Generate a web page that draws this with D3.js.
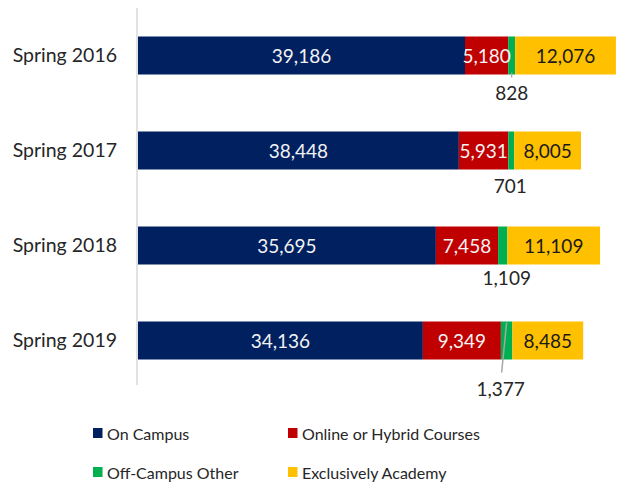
<!DOCTYPE html>
<html>
<head>
<meta charset="utf-8">
<script src="https://cdn.jsdelivr.net/npm/d3@7"></script>
<style>
  html, body { margin: 0; padding: 0; background: #fff; }
  svg { display: block; font-family: Lato, "Open Sans", sans-serif; }
</style>
</head>
<body>
<svg id="chart" width="619" height="485"></svg>
<script>
// ---- data ----
const categories = ["Spring 2016", "Spring 2017", "Spring 2018", "Spring 2019"];
const seriesNames = ["On Campus", "Online or Hybrid Courses", "Off-Campus Other", "Exclusively Academy"];
const onCampus = [39186, 38448, 35695, 34136];
const onlineHybrid = [5180, 5931, 7458, 9349];
const offCampusOther = [828, 701, 1109, 1377];
const exclusivelyAcademy = [12076, 8005, 11109, 8485];
const xDomainMax = 60000;

// ---- layout / style ----
const colors = ["#002060", "#C00000", "#00B050", "#FFC000"];
const labelColors = ["#F2F2F2", "#F2F2F2", null, "#1a1a1a"];
const W = 619, H = 485;
const plot = { left: 138, top: 8, bottom: 388 };
// offsets (px) of the outside labels for the small green segment: [dx, dy below bar bottom]
const outsideLabelOffset = [[0, 25], [-1, 23], [4, 20], [-6, 36]];

const svg = d3.select("#chart");

const table = categories.map((c, i) => ({
  cat: c,
  [seriesNames[0]]: onCampus[i],
  [seriesNames[1]]: onlineHybrid[i],
  [seriesNames[2]]: offCampusOther[i],
  [seriesNames[3]]: exclusivelyAcademy[i]
}));
const stacked = d3.stack().keys(seriesNames)(table);

const x = d3.scaleLinear().domain([0, xDomainMax]).range([plot.left, plot.left + 0.008345 * xDomainMax]);
const y = d3.scaleBand().domain(categories).range([plot.top, plot.bottom]).paddingInner(0.6).paddingOuter(0.3);

// bars
const groups = svg.append("g").selectAll("g").data(stacked).join("g")
  .attr("fill", (d, i) => colors[i]);
groups.selectAll("rect").data(d => d).join("rect")
  .attr("x", d => x(d[0]))
  .attr("width", d => x(d[1]) - x(d[0]))
  .attr("y", d => y(d.data.cat))
  .attr("height", y.bandwidth());

// axis (category) - vertical line at left
const yAxis = d3.axisLeft(y).tickSize(0).tickPadding(20);
const ag = svg.append("g").attr("transform", `translate(${plot.left - 1},0)`).call(yAxis);
ag.select(".domain").attr("stroke", "#D9D9D9").attr("stroke-width", 1.5)
  .attr("d", `M0,${plot.top}V385`);
ag.selectAll("text").attr("font-size", 19.5).attr("fill", "#262626")
  .attr("font-family", "Lato, sans-serif");

// inside labels
const fmt = d3.format(",");
stacked.forEach((s, si) => {
  if (si === 2) return;
  svg.append("g").selectAll("text").data(s).join("text")
    .attr("x", d => (x(d[0]) + x(d[1])) / 2)
    .attr("y", d => y(d.data.cat) + y.bandwidth() / 2)
    .attr("text-anchor", "middle")
    .attr("dominant-baseline", "central")
    .attr("font-size", 19)
    .attr("fill", labelColors[si])
    .text(d => fmt(d[1] - d[0]));
});

// outside labels for Off-Campus Other
const green = stacked[2];
const og = svg.append("g");
green.forEach((d, i) => {
  const cx = (x(d[0]) + x(d[1])) / 2;
  const bottom = y(d.data.cat) + y.bandwidth();
  const [dx, dy] = outsideLabelOffset[i];
  const lx = cx + dx, ly = bottom + dy;
  if (i === 0) {
    og.append("line").attr("x1", cx).attr("x2", cx).attr("y1", bottom - 2).attr("y2", bottom + 3)
      .attr("stroke", "#A6A6A6").attr("stroke-width", 1.2);
  }
  if (i === 3) {
    og.append("line").attr("x1", cx).attr("y1", y(d.data.cat) + 1).attr("x2", lx + 1).attr("y2", ly - 23)
      .attr("stroke", "#A6A6A6").attr("stroke-width", 1.5);
  }
  og.append("text").attr("x", lx).attr("y", ly)
    .attr("text-anchor", "middle").attr("font-size", 19).attr("fill", "#262626")
    .text(fmt(d[1] - d[0]));
});

// legend
const legendPos = [[93, 433], [288, 433], [93, 472], [288, 472]];
const lg = svg.append("g");
seriesNames.forEach((n, i) => {
  const [lx, ly] = legendPos[i];
  lg.append("rect").attr("x", lx).attr("y", ly - 5).attr("width", 9.5).attr("height", 10).attr("fill", colors[i]);
  lg.append("text").attr("x", lx + 14).attr("y", ly).attr("dominant-baseline", "central")
    .attr("font-size", 16).attr("fill", "#262626").text(n);
});
</script>
</body>
</html>
